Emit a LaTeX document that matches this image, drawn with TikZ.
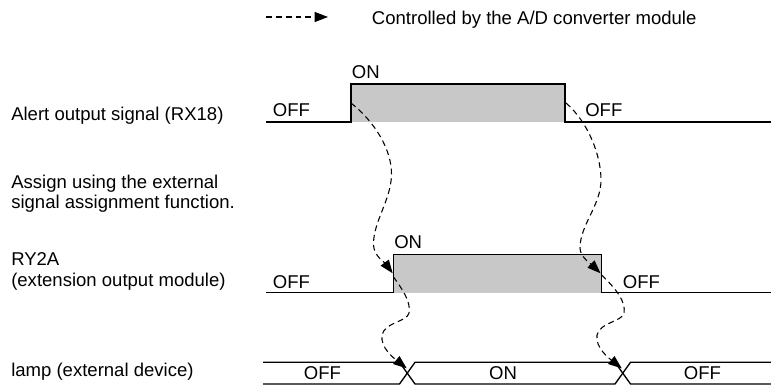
\documentclass[tikz,border=0pt]{standalone}
\usepackage{fontspec}
\setmainfont{Liberation Sans}
\usetikzlibrary{arrows.meta}
\definecolor{hi}{RGB}{200,200,200}
\begin{document}
\begin{tikzpicture}[x=0.75pt,y=-0.75pt,
  txt/.style={font=\fontsize{13.9}{16}\selectfont, inner sep=0pt, anchor=base west},
  ctxt/.style={font=\fontsize{13.9}{16}\selectfont, inner sep=0pt, anchor=base},
  sig/.style={line width=1pt, line join=miter},
  ctl/.style={line width=0.8pt, dash pattern=on 4.4pt off 3pt, -{Triangle[length=10pt,width=7.5pt]}},
]
\useasboundingbox (0,0) rectangle (771,385);

% legend
\coordinate (lg1) at (266,17);
\coordinate (lg2) at (328,17);
\draw[ctl] (lg1) -- (lg2);
\node[txt] (lgt) at (371.7,24.5) {Controlled by the A/D converter module};

% left labels
\node[txt] (l1) at (11,120) {Alert output signal (RX18)};
\node[txt] (l2a) at (11,188.3) {Assign using the external};
\node[txt] (l2b) at (11,208.3) {signal assignment function.};
\node[txt] (l3a) at (11,265) {RY2A};
\node[txt] (l3b) at (11,286.7) {(extension output module)};
\node[txt] (l4) at (11,376.7) {lamp (external device)};

% signal 1
\fill[hi] (351,84) rectangle (565,122);
\draw[sig] (266,122) -- (351,122) -- (351,84) -- (565,84) -- (565,122) -- (772,122);
\node[txt] (s1on) at (351.7,78.5) {ON};
\node[txt] (s1off1) at (272.7,116.7) {OFF};
\node[txt] (s1off2) at (585,116.7) {OFF};

% signal 2
\fill[hi] (393.3,254.7) rectangle (601.7,292.7);
\draw[sig] (266,292.7) -- (393.3,292.7) -- (393.3,254.7) -- (601.7,254.7) -- (601.7,292.7) -- (772,292.7);
\node[txt] (s2on) at (394,248) {ON};
\node[txt] (s2off1) at (272.7,288) {OFF};
\node[txt] (s2off2) at (622.7,288) {OFF};

% signal 3 (lamp)
\draw[sig] (263,362.3) -- (399.5,362.3) -- (415,384) -- (615,384) -- (630.5,362.3) -- (772,362.3);
\draw[sig] (263,384) -- (399.5,384) -- (415,362.3) -- (615,362.3) -- (630.5,384) -- (772,384);
\node[ctxt] (s3off1) at (322.5,379) {OFF};
\node[ctxt] (s3on) at (503,379) {ON};
\node[ctxt] (s3off2) at (702.5,379) {OFF};

% connector end points
\coordinate (a1) at (351,103);
\coordinate (a2) at (392.7,273.3);
\coordinate (b1) at (566,103);
\coordinate (b2) at (600.5,273.3);
\coordinate (c1) at (393.3,276.7);
\coordinate (c2) at (406.7,368.3);
\coordinate (d1) at (601.7,275);
\coordinate (d2) at (621.7,368.3);

\draw[ctl] (a1) .. controls (375,122) and (392,150) .. (391.5,175)
  .. controls (391,200) and (373,222) .. (373.5,245)
  .. controls (374,256) and (385,263) .. (a2);
\draw[ctl] (b1) .. controls (588,122) and (601,155) .. (601,180)
  .. controls (601,205) and (580,225) .. (580,248)
  .. controls (580,257) and (592,265) .. (b2);
\draw[ctl] (c1) .. controls (403,290) and (411,302) .. (409,313)
  .. controls (407,322) and (385,322) .. (382,335)
  .. controls (380,348) and (395,359) .. (c2);
\draw[ctl] (d1) .. controls (617,290) and (626,302) .. (624,313)
  .. controls (622,322) and (600,322) .. (597,335)
  .. controls (595,348) and (610,359) .. (d2);
\end{tikzpicture}
\end{document}
